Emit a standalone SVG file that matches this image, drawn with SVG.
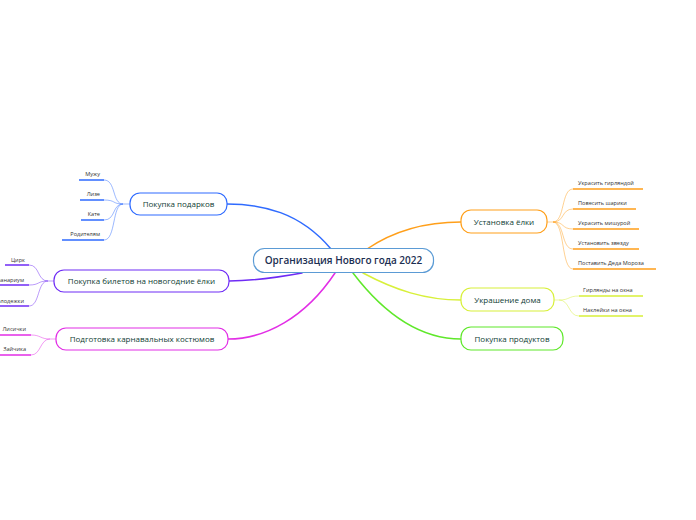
<svg xmlns="http://www.w3.org/2000/svg" width="696" height="520" viewBox="0 0 696 520">
<style>
.bg{fill:#ffffff}
.node{fill:#ffffff;stroke-width:1.2}
.main{font-family:"Open Sans","Liberation Sans",sans-serif;font-size:10px;font-weight:600;fill:#1c2f52;text-anchor:middle}
.br{font-family:"Open Sans","Liberation Sans",sans-serif;font-size:8px;fill:#0f3d33;text-anchor:middle}
.lf{font-family:"Open Sans","Liberation Sans",sans-serif;font-size:5.6px;fill:#333333}
.lfr{text-anchor:end}
.c{fill:none;stroke-width:1.5;stroke-linecap:round}
.lc{fill:none;stroke-width:0.8;opacity:0.6}
.ul{fill:none;stroke-width:1.6}
</style>
<rect class="bg" width="696" height="520"/>
<g id="connectors">
  <path class="c" stroke="#2f6bff" d="M331,249 C300,212 262,204 227,204"/>
  <path class="c" stroke="#6f2cf5" d="M302,273 C280,277 255,281 229,281"/>
  <path class="c" stroke="#e22ee6" d="M335,273 C305,318 265,339 228,339"/>
  <path class="c" stroke="#ff9f1a" d="M367,249 C395,230 425,222 461,222"/>
  <path class="c" stroke="#d8f03a" d="M363,273 C395,290 425,300 461,300"/>
  <path class="c" stroke="#5fe82a" d="M353,273 C385,315 420,339 461,339"/>
  <!-- leaf connectors: gifts -->
  <g stroke="#2f6bff">
    <path class="lc" d="M130,204 L123,204"/>
    <path class="lc" d="M104,180 C116,180 112,204 123,204"/>
    <path class="lc" d="M104,200 C116,200 112,204 123,204"/>
    <path class="lc" d="M104,220 C116,220 112,204 123,204"/>
    <path class="lc" d="M104,240 C116,240 112,204 123,204"/>
    <path class="ul" d="M79,180 H104 M80,200 H104 M81,220 H104 M62,240 H104"/>
  </g>
  <g stroke="#6f2cf5">
    <path class="lc" d="M54,281 L48,281"/>
    <path class="lc" d="M29,265 C40,265 37,281 48,281"/>
    <path class="lc" d="M29,285 C40,285 37,281 48,281"/>
    <path class="lc" d="M29,306 C40,306 37,281 48,281"/>
    <path class="ul" d="M5,265 H29 M0,285 H29 M0,306 H29"/>
  </g>
  <g stroke="#e22ee6">
    <path class="lc" d="M56,339 L50,339"/>
    <path class="lc" d="M31,335 C41,335 40,339 50,339"/>
    <path class="lc" d="M31,355 C41,355 40,339 50,339"/>
    <path class="ul" d="M0,335 H31 M0,355 H31"/>
  </g>
  <g stroke="#ff9f1a">
    <path class="lc" d="M547,222 L553,222"/>
    <path class="lc" d="M553,222 C565,222 561,189 573,189"/>
    <path class="lc" d="M553,222 C565,222 561,209 573,209"/>
    <path class="lc" d="M553,222 C565,222 561,229 573,229"/>
    <path class="lc" d="M553,222 C565,222 561,249 573,249"/>
    <path class="lc" d="M553,222 C565,222 561,269 573,269"/>
    <path class="ul" d="M573,189 H643 M573,209 H636 M573,229 H639 M573,249 H639 M573,269 H656"/>
  </g>
  <g stroke="#d8f03a">
    <path class="lc" d="M554,300 L559,300"/>
    <path class="lc" d="M559,300 C570,300 568,296 579,296"/>
    <path class="lc" d="M559,300 C570,300 568,316 579,316"/>
    <path class="ul" d="M579,296 H643 M579,316 H643"/>
  </g>
</g>
<g id="center">
  <rect class="node" stroke="#5b9bd5" x="253.5" y="248.5" width="180" height="24" rx="11"/>
  <text class="main" x="343.5" y="264.3">Организация Нового года 2022</text>
</g>
<g id="gifts">
  <rect class="node" stroke="#2f6bff" x="130" y="193" width="97" height="22" rx="10"/>
  <text class="br" x="178.5" y="206.8">Покупка подарков</text>
  <text class="lf lfr" x="100" y="176">Мужу</text>
  <text class="lf lfr" x="100" y="196">Лизе</text>
  <text class="lf lfr" x="100" y="216">Кате</text>
  <text class="lf lfr" x="100" y="236">Родителям</text>
</g>
<g id="tickets">
  <rect class="node" stroke="#6f2cf5" x="54" y="270" width="175" height="22" rx="10"/>
  <text class="br" x="141.5" y="283.8">Покупка билетов на новогодние ёлки</text>
  <text class="lf lfr" x="25" y="262">Цирк</text>
  <text class="lf lfr" x="24" y="282">Океанариум</text>
  <text class="lf lfr" x="24" y="303">Молодежки</text>
</g>
<g id="costumes">
  <rect class="node" stroke="#e22ee6" x="56" y="328" width="172" height="22" rx="10"/>
  <text class="br" x="142" y="341.8">Подготовка карнавальных костюмов</text>
  <text class="lf lfr" x="26" y="331">Лисички</text>
  <text class="lf lfr" x="26" y="351">Зайчика</text>
</g>
<g id="tree">
  <rect class="node" stroke="#ff9f1a" x="461" y="210" width="86" height="23" rx="10"/>
  <text class="br" x="504" y="224.8">Установка ёлки</text>
  <text class="lf" x="578" y="185">Украсить гирляндой</text>
  <text class="lf" x="578" y="205">Повесить шарики</text>
  <text class="lf" x="578" y="225">Украсить мишурой</text>
  <text class="lf" x="578" y="245">Установить звезду</text>
  <text class="lf" x="578" y="265">Поставить Деда Мороза</text>
</g>
<g id="house">
  <rect class="node" stroke="#d8f03a" x="461" y="288" width="93" height="23" rx="10"/>
  <text class="br" x="507.5" y="302.8">Украшение дома</text>
  <text class="lf" x="583" y="292">Гирлянды на окна</text>
  <text class="lf" x="583" y="312">Наклейки на окна</text>
</g>
<g id="food">
  <rect class="node" stroke="#5fe82a" x="461" y="327" width="102" height="23" rx="10"/>
  <text class="br" x="512" y="341.8">Покупка продуктов</text>
</g>
</svg>
